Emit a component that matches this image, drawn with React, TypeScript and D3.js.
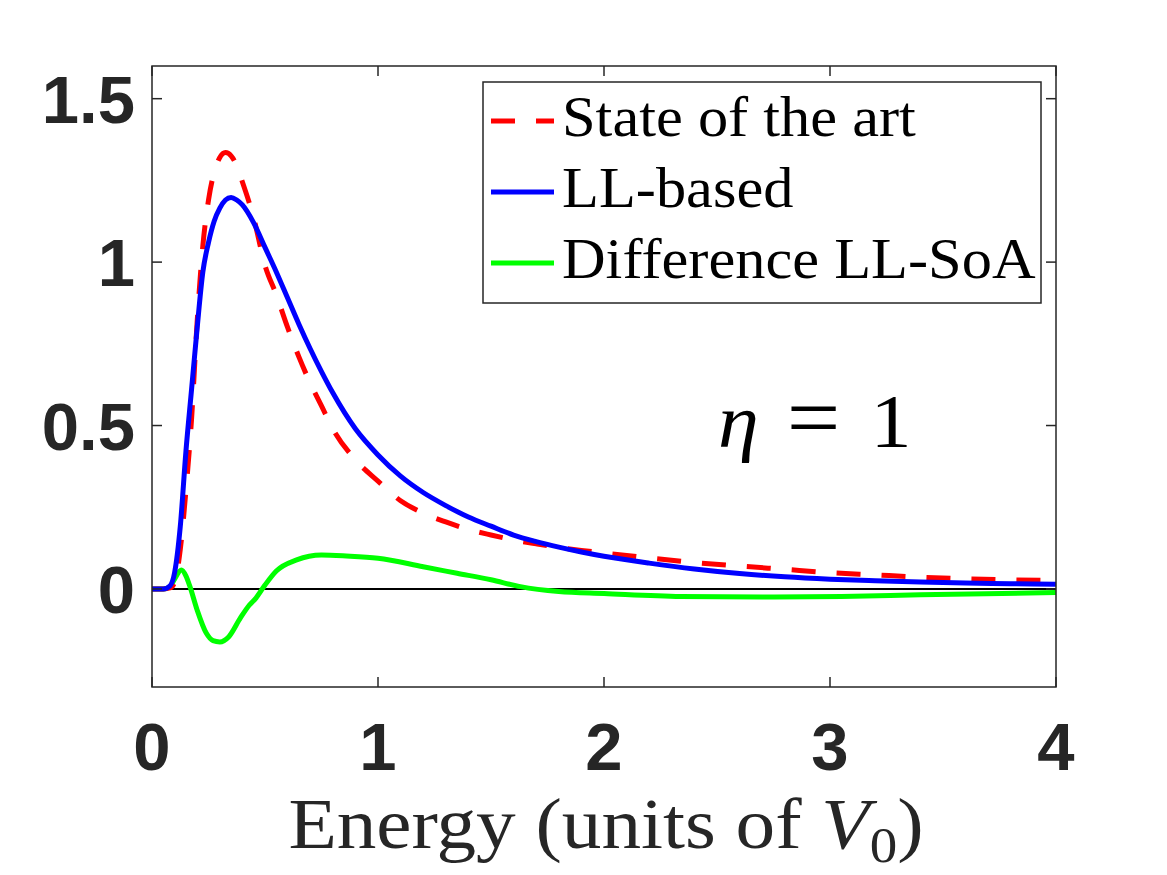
import React, { useEffect, useRef } from 'react';
import * as d3 from 'd3';

// energy grid shared by the two main curves (units of V0)
const energy = [0, 0.05, 0.08, 0.1, 0.125, 0.15, 0.175, 0.2, 0.225, 0.25, 0.275, 0.3, 0.325, 0.35, 0.375, 0.4, 0.45, 0.5, 0.55, 0.6, 0.65, 0.7, 0.75, 0.8, 0.9, 1.0, 1.1, 1.2, 1.3, 1.4, 1.5, 1.6, 1.7, 1.8, 1.9, 2.0, 2.2, 2.4, 2.6, 2.8, 3.0, 3.2, 3.4, 3.6, 3.8, 4.0];

const stateOfArt = [0, 0, 0.003, 0.02, 0.12, 0.3, 0.52, 0.82, 1.05, 1.19, 1.275, 1.32, 1.335, 1.325, 1.295, 1.245, 1.135, 0.99, 0.9, 0.8, 0.71, 0.63, 0.56, 0.49, 0.395, 0.33, 0.27, 0.232, 0.205, 0.182, 0.165, 0.15, 0.138, 0.127, 0.118, 0.11, 0.095, 0.081, 0.07, 0.06, 0.05, 0.043, 0.036, 0.031, 0.028, 0.026];

const llBased = [0, 0, 0.01, 0.05, 0.19, 0.42, 0.61, 0.8, 0.97, 1.06, 1.125, 1.165, 1.19, 1.198, 1.19, 1.175, 1.12, 1.045, 0.97, 0.89, 0.81, 0.735, 0.665, 0.6, 0.49, 0.41, 0.345, 0.295, 0.255, 0.22, 0.192, 0.165, 0.145, 0.128, 0.113, 0.1, 0.079, 0.061, 0.047, 0.037, 0.03, 0.025, 0.021, 0.018, 0.016, 0.014];

// difference curve has its own sampling
const diffEnergy = [0, 0.05, 0.08, 0.1, 0.13, 0.15, 0.168, 0.2, 0.24, 0.27, 0.3, 0.34, 0.39, 0.43, 0.46, 0.5, 0.55, 0.64, 0.75, 0.86, 1.0, 1.2, 1.35, 1.5, 1.63, 1.8, 2.0, 2.34, 2.7, 3.05, 3.4, 4.0];
const diffValues = [0, 0, 0.007, 0.03, 0.058, 0.04, 0.007, -0.065, -0.135, -0.158, -0.162, -0.146, -0.09, -0.05, -0.028, 0.012, 0.055, 0.089, 0.104, 0.101, 0.094, 0.068, 0.048, 0.028, 0.007, -0.008, -0.014, -0.023, -0.025, -0.023, -0.018, -0.011];

const xTicks = [0, 1, 2, 3, 4];
const yTicks = [0, 0.5, 1, 1.5];
const yTickLabels = ['0', '0.5', '1', '1.5'];

const legendLabels = ['State of the art', 'LL-based', 'Difference LL-SoA'];
const legendColors = ['#ff0000', '#0000ff', '#00ff00'];

const App: React.FC = () => {
  const svgRef = useRef<SVGSVGElement | null>(null);

  useEffect(() => {
    const width = 1167;
    const height = 875;
    const left = 152, right = 1056, top = 66, bottom = 687;
    const axisColor = '#262626';
    const serif = '"Liberation Serif", "Times New Roman", serif';
    const sans = '"Liberation Sans", Arial, Helvetica, sans-serif';

    const svg = d3.select(svgRef.current)
      .attr('width', width)
      .attr('height', height);
    svg.selectAll('*').remove();

    svg.append('rect').attr('width', width).attr('height', height).attr('fill', '#fff');

    const x = d3.scaleLinear().domain([0, 4]).range([left, right]);
    const y = d3.scaleLinear().domain([-0.3, 1.6]).range([bottom, top]);

    const defs = svg.append('defs');
    defs.append('clipPath').attr('id', 'plot-clip')
      .append('rect')
      .attr('x', left).attr('y', top)
      .attr('width', right - left).attr('height', bottom - top);

    const plot = svg.append('g').attr('clip-path', 'url(#plot-clip)');

    // zero line
    plot.append('line')
      .attr('x1', x(0)).attr('x2', x(4))
      .attr('y1', y(0)).attr('y2', y(0))
      .attr('stroke', '#000').attr('stroke-width', 2);

    const line = d3.line<[number, number]>()
      .x(d => x(d[0]))
      .y(d => y(d[1]))
      .curve(d3.curveMonotoneX);

    const soaPts = energy.map((e, i) => [e, stateOfArt[i]] as [number, number]);
    const llPts = energy.map((e, i) => [e, llBased[i]] as [number, number]);
    const diffPts = diffEnergy.map((e, i) => [e, diffValues[i]] as [number, number]);

    plot.append('path')
      .attr('d', line(diffPts))
      .attr('fill', 'none')
      .attr('stroke', legendColors[2])
      .attr('stroke-width', 5)
      .attr('stroke-linejoin', 'round');

    plot.append('path')
      .attr('d', line(soaPts))
      .attr('fill', 'none')
      .attr('stroke', legendColors[0])
      .attr('stroke-width', 5)
      .attr('stroke-dasharray', '24 21');

    plot.append('path')
      .attr('d', line(llPts))
      .attr('fill', 'none')
      .attr('stroke', legendColors[1])
      .attr('stroke-width', 5)
      .attr('stroke-linejoin', 'round');

    // axes box and ticks
    const axes = svg.append('g');
    axes.append('rect')
      .attr('x', left).attr('y', top)
      .attr('width', right - left).attr('height', bottom - top)
      .attr('fill', 'none')
      .attr('stroke', axisColor)
      .attr('stroke-width', 1.5);

    const tickLen = 10;
    xTicks.forEach(t => {
      axes.append('line')
        .attr('x1', x(t)).attr('x2', x(t))
        .attr('y1', bottom).attr('y2', bottom - tickLen)
        .attr('stroke', axisColor).attr('stroke-width', 1.5);
      axes.append('line')
        .attr('x1', x(t)).attr('x2', x(t))
        .attr('y1', top).attr('y2', top + tickLen)
        .attr('stroke', axisColor).attr('stroke-width', 1.5);
      axes.append('text')
        .attr('x', x(t))
        .attr('y', 770)
        .attr('text-anchor', 'middle')
        .attr('font-family', sans)
        .attr('font-weight', 'bold')
        .attr('font-size', 67)
        .attr('fill', axisColor)
        .text(String(t));
    });

    yTicks.forEach((t, i) => {
      axes.append('line')
        .attr('x1', left).attr('x2', left + tickLen)
        .attr('y1', y(t)).attr('y2', y(t))
        .attr('stroke', axisColor).attr('stroke-width', 1.5);
      axes.append('line')
        .attr('x1', right).attr('x2', right - tickLen)
        .attr('y1', y(t)).attr('y2', y(t))
        .attr('stroke', axisColor).attr('stroke-width', 1.5);
      axes.append('text')
        .attr('x', 135)
        .attr('y', y(t) + 24)
        .attr('text-anchor', 'end')
        .attr('font-family', sans)
        .attr('font-weight', 'bold')
        .attr('font-size', 67)
        .attr('fill', axisColor)
        .text(yTickLabels[i]);
    });

    // x axis label
    const xl = svg.append('text')
      .attr('transform', `translate(${(left + right) / 2 + 2},848) scale(1.1,1)`)
      .attr('text-anchor', 'middle')
      .attr('font-family', serif)
      .attr('font-size', 72)
      .attr('fill', axisColor);
    xl.append('tspan').text('Energy (units of ');
    xl.append('tspan').attr('font-style', 'italic').text('V');
    xl.append('tspan').attr('font-size', 50).attr('dy', 14).text('0');
    xl.append('tspan').attr('dy', -14).text(')');

    // annotation
    const eta = svg.append('text')
      .attr('transform', 'translate(718,447) scale(1.08,1)')
      .attr('font-family', serif)
      .attr('font-size', 76)
      .attr('fill', '#000');
    eta.append('tspan').attr('font-style', 'italic').text('η');
    eta.append('tspan').attr('dx', 26).attr('font-size', 88).text('=');
    eta.append('tspan').attr('dx', 28).text('1');

    // legend
    const lg = svg.append('g');
    lg.append('rect')
      .attr('x', 483).attr('y', 82)
      .attr('width', 558).attr('height', 221)
      .attr('fill', '#fff')
      .attr('stroke', axisColor)
      .attr('stroke-width', 1.5);

    const rowY = [121, 192, 263];
    legendLabels.forEach((lab, i) => {
      lg.append('line')
        .attr('x1', 491).attr('x2', 554)
        .attr('y1', rowY[i]).attr('y2', rowY[i])
        .attr('stroke', legendColors[i])
        .attr('stroke-width', 5)
        .attr('stroke-dasharray', i === 0 ? '24 21' : null);
      lg.append('text')
        .attr('transform', `translate(562,${rowY[i] + 15}) scale(1.06,1)`)
        .attr('font-family', serif)
        .attr('font-size', 57)
        .attr('fill', '#000')
        .text(lab);
    });
  }, []);

  return <svg ref={svgRef} style={{ position: 'absolute', left: 0, top: 0 }}></svg>;
};

export default App;
